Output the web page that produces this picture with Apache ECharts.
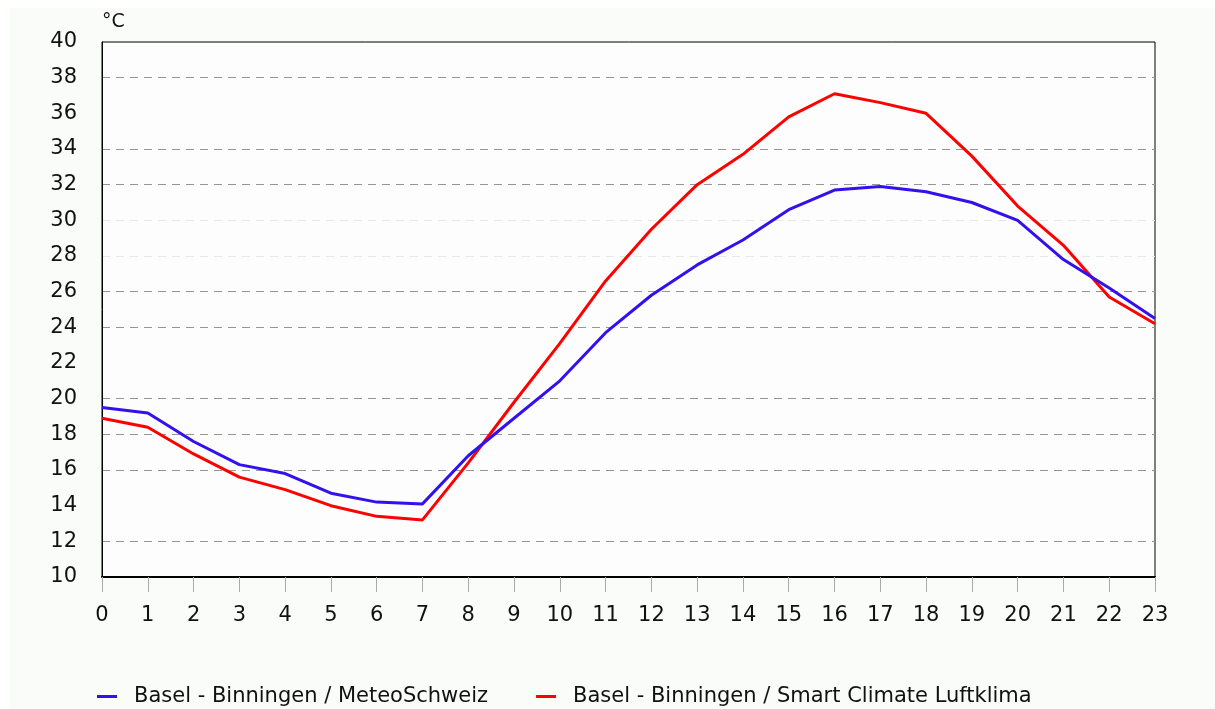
<!DOCTYPE html>
<html>
<head>
<meta charset="utf-8">
<script src="https://cdn.jsdelivr.net/npm/echarts@6/dist/echarts.min.js"></script>
<style>
  html, body { margin: 0; padding: 0; background: #ffffff; }
  #chart { width: 1215px; height: 709px; }
</style>
</head>
<body>
<div id="chart"></div>
<script>
// ---- 数据 ----
var hours = ["0","1","2","3","4","5","6","7","8","9","10","11","12","13","14","15","16","17","18","19","20","21","22","23"];
var meteoSchweiz = [19.5, 19.2, 17.6, 16.3, 15.8, 14.7, 14.2, 14.1, 16.8, 18.9, 21.0, 23.7,
                    25.8, 27.5, 28.9, 30.6, 31.7, 31.9, 31.6, 31.0, 30.0, 27.8, 26.2, 24.5];
var smartClimate = [18.9, 18.4, 16.9, 15.6, 14.9, 14.0, 13.4, 13.2, 16.4, 19.8, 23.1, 26.6,
                    29.5, 32.0, 33.7, 35.8, 37.1, 36.6, 36.0, 33.6, 30.8, 28.6, 25.7, 24.2];
var seriesNames = ["Basel - Binningen / MeteoSchweiz", "Basel - Binningen / Smart Climate Luftklima"];

// ---- 样式 ----
var FONT = "DejaVu Sans";
var BLUE = "#3310ee";
var RED  = "#ff0000";
var DARK = "#959595", LIGHT = "#e6e8e6", NONE = "rgba(0,0,0,0)";
// 10,12,14,...,40 的网格线颜色（原图各线深浅不一）
var gridColors = [NONE, DARK, NONE, DARK, DARK, DARK, NONE, DARK, DARK, LIGHT, LIGHT, DARK, DARK, NONE, DARK, NONE];

var chart = echarts.init(document.getElementById("chart"), null, { renderer: "canvas" });

chart.setOption({
  backgroundColor: "#ffffff",
  animation: false,
  textStyle: { fontFamily: FONT },
  graphic: [{
    type: "rect",
    z: -10,
    shape: { x: 10, y: 8, width: 1205, height: 701 },
    style: { fill: "#fafcfa" }
  }],
  grid: {
    left: 102, right: 60, top: 42, bottom: 132,
    show: true,
    borderColor: "#000",
    borderWidth: 1,
    backgroundColor: "#fcfdfc"
  },
  legend: {
    left: 97,
    top: 686,
    padding: 0,
    itemWidth: 20,
    itemHeight: 3,
    itemGap: 48,
    icon: "rect",
    textStyle: { fontFamily: FONT, fontSize: 21, color: "#111", padding: [0, 0, 0, 12] },
    data: seriesNames
  },
  xAxis: {
    type: "category",
    data: hours,
    boundaryGap: false,
    axisLine: { lineStyle: { color: "#000", width: 2 } },
    axisTick: { show: true, length: 15, alignWithLabel: true, lineStyle: { color: "#aaaaaa", width: 1 } },
    axisLabel: { fontFamily: FONT, fontSize: 21, color: "#111", margin: 28, interval: 0 },
    splitLine: { show: false }
  },
  yAxis: {
    type: "value",
    min: 10,
    max: 40,
    interval: 2,
    name: "°C",
    nameLocation: "end",
    nameGap: 10,
    nameTextStyle: { fontFamily: FONT, fontSize: 19, color: "#111", align: "left" },
    axisLine: { show: true, lineStyle: { color: "#000", width: 1 } },
    axisTick: { show: false },
    axisLabel: { fontFamily: FONT, fontSize: 21, color: "#111", margin: 25, padding: [3, 0, 0, 0] },
    splitLine: { show: true, lineStyle: { color: gridColors, type: [8, 6], width: 1 } }
  },
  series: [
    {
      name: seriesNames[0],
      type: "line",
      data: meteoSchweiz,
      symbol: "none",
      lineStyle: { color: BLUE, width: 3 },
      itemStyle: { color: BLUE },
      z: 3
    },
    {
      name: seriesNames[1],
      type: "line",
      data: smartClimate,
      symbol: "none",
      lineStyle: { color: RED, width: 3 },
      itemStyle: { color: RED },
      z: 2
    }
  ]
});
</script>
</body>
</html>
